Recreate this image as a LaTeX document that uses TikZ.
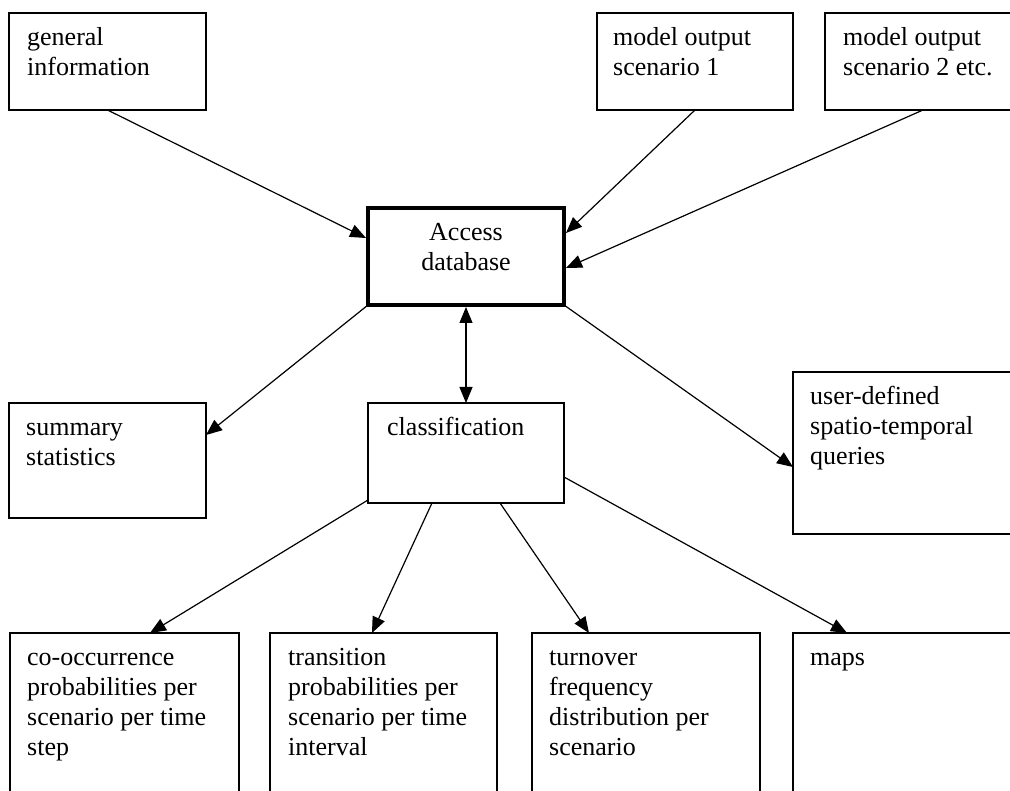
\documentclass[tikz,border=0pt]{standalone}
\usepackage{fontspec}
\setmainfont{Liberation Serif}
\usetikzlibrary{arrows.meta}
\begin{document}
\begin{tikzpicture}[x=1pt,y=-1pt,
  box/.style={draw, line width=1.3pt, rectangle, inner sep=0pt, outer sep=0pt, anchor=north west},
  lbl/.style={anchor=north west, inner sep=0pt, align=left, font=\fontsize{26}{30}\selectfont},
  arr/.style={-{Triangle[length=16pt,width=13pt]}, line width=1.2pt},
  darr/.style={{Triangle[length=16pt,width=13pt]}-{Triangle[length=16pt,width=13pt]}, line width=1.2pt}]
\useasboundingbox (0,0) rectangle (1010,791);
\clip (0,0) rectangle (1010,791);
\fill[white] (0,0) rectangle (1010,791);
% boxes
\node[box, minimum width=197pt, minimum height=97pt] (gen) at (9,13) {};
\node[box, minimum width=196pt, minimum height=97pt] (mo1) at (597,13) {};
\node[box, minimum width=250pt, minimum height=97pt] (mo2) at (825,13) {};
\node[box, line width=4pt, minimum width=196pt, minimum height=97pt] (acc) at (368,208) {};
\node[box, minimum width=197pt, minimum height=115pt] (sum) at (9,403) {};
\node[box, minimum width=196pt, minimum height=100pt] (cls) at (368,403) {};
\node[box, minimum width=250pt, minimum height=162pt] (usr) at (793,372) {};
\node[box, minimum width=229pt, minimum height=200pt] (co) at (10,633) {};
\node[box, minimum width=227pt, minimum height=200pt] (tr) at (270,633) {};
\node[box, minimum width=228pt, minimum height=200pt] (tu) at (532,633) {};
\node[box, minimum width=250pt, minimum height=200pt] (maps) at (793,633) {};
% labels
\node[lbl] (gent) at ([shift={(18,11)}]gen.north west) {\strut general\\information};
\node[lbl] (mo1t) at ([shift={(16,11)}]mo1.north west) {\strut model output\\scenario 1};
\node[lbl] (mo2t) at ([shift={(18,11)}]mo2.north west) {\strut model output\\scenario 2 etc.};
\node[lbl, anchor=north, align=center] (acct) at ([shift={(0,11)}]acc.north) {\strut Access\\database};
\node[lbl] (sumt) at ([shift={(17,11)}]sum.north west) {\strut summary\\statistics};
\node[lbl] (clst) at ([shift={(19,11)}]cls.north west) {\strut classification};
\node[lbl] (usrt) at ([shift={(17,11)}]usr.north west) {\strut user-defined\\spatio-temporal\\queries};
\node[lbl] (cot) at ([shift={(17,11)}]co.north west) {\strut co-occurrence\\probabilities per\\scenario per time\\step};
\node[lbl] (trt) at ([shift={(18,11)}]tr.north west) {\strut transition\\probabilities per\\scenario per time\\interval};
\node[lbl] (tut) at ([shift={(17,11)}]tu.north west) {\strut turnover\\frequency\\distribution per\\scenario};
\node[lbl] (mapst) at ([shift={(17,11)}]maps.north west) {\strut maps};
% connectors
\draw[arr] (gen.south) -- ([shift={(-2,30)}]acc.north west);
\draw[arr] (mo1.south) -- ([shift={(2,25)}]acc.north east);
\draw[arr] ([shift={(98,0)}]mo2.south west) -- ([shift={(2,60)}]acc.north east);
\draw[arr] (acc.south west) -- ([shift={(0,32)}]sum.north east);
\draw[arr] (acc.south east) -- ([shift={(0,95)}]usr.north west);
\draw[darr] ([shift={(0,2)}]acc.south) -- (cls.north);
\draw[arr] ([shift={(0,-3)}]cls.south west) -- ([shift={(140,0)}]co.north west);
\draw[arr] ([shift={(64,0)}]cls.south west) -- ([shift={(102,0)}]tr.north west);
\draw[arr] ([shift={(132,0)}]cls.south west) -- ([shift={(57,0)}]tu.north west);
\draw[arr] ([shift={(0,-26)}]cls.south east) -- ([shift={(54,0)}]maps.north west);
\end{tikzpicture}
\end{document}
